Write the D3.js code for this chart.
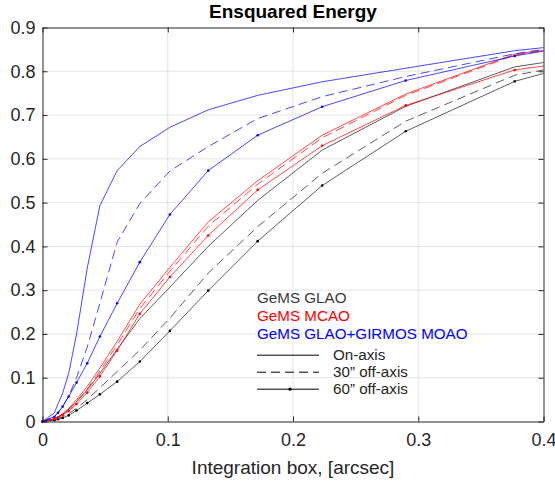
<!DOCTYPE html>
<html>
<head>
<meta charset="utf-8">
<script src="https://cdn.jsdelivr.net/npm/d3@7"></script>
<style>
  body { margin: 0; background: #fff; }
  text { font-family: "Liberation Sans", Arial, Helvetica, sans-serif; }
</style>
</head>
<body>
<div id="chart"></div>
<script>

// integration box sizes (arcsec) where the curves were sampled
var boxSize = [0, 0.0095, 0.0124, 0.0161, 0.0209, 0.0272, 0.0357, 0.0458, 0.0596, 0.0777, 0.1017, 0.1323, 0.1718, 0.2233, 0.29, 0.377, 0.4];

// GeMS GLAO
var glaoOn = [0, 0.006, 0.010, 0.016, 0.027, 0.045, 0.072, 0.110, 0.165, 0.235, 0.307, 0.400, 0.505, 0.620, 0.720, 0.810, 0.820];
var glao30 = [0, 0.004, 0.007, 0.011, 0.018, 0.030, 0.050, 0.077, 0.114, 0.163, 0.236, 0.339, 0.445, 0.567, 0.686, 0.791, 0.803];
var glao60 = [0, 0.003, 0.005, 0.008, 0.014, 0.025, 0.042, 0.062, 0.091, 0.137, 0.207, 0.299, 0.412, 0.539, 0.663, 0.777, 0.795];
// GeMS MCAO
var mcaoOn = [0, 0.007, 0.011, 0.018, 0.030, 0.050, 0.080, 0.122, 0.183, 0.268, 0.352, 0.456, 0.550, 0.654, 0.748, 0.839, 0.848];
var mcao30 = [0, 0.006, 0.010, 0.016, 0.027, 0.046, 0.074, 0.115, 0.175, 0.258, 0.343, 0.446, 0.542, 0.648, 0.745, 0.837, 0.847];
var mcao60 = [0, 0.006, 0.009, 0.015, 0.024, 0.040, 0.066, 0.103, 0.162, 0.246, 0.330, 0.425, 0.529, 0.630, 0.722, 0.803, 0.812];
// GeMS GLAO + GIRMOS MOAO
var moaoOn = [0, 0.020, 0.040, 0.065, 0.110, 0.200, 0.350, 0.493, 0.573, 0.628, 0.672, 0.712, 0.745, 0.776, 0.807, 0.847, 0.854];
var moao30 = [0, 0.012, 0.020, 0.035, 0.058, 0.100, 0.170, 0.270, 0.410, 0.498, 0.572, 0.628, 0.692, 0.742, 0.788, 0.840, 0.850];
var moao60 = [0, 0.011, 0.020, 0.034, 0.057, 0.089, 0.133, 0.194, 0.270, 0.364, 0.473, 0.573, 0.654, 0.719, 0.779, 0.835, 0.846];

var xTicks = [0, 0.1, 0.2, 0.3, 0.4];
var yTicks = [0, 0.1, 0.2, 0.3, 0.4, 0.5, 0.6, 0.7, 0.8, 0.9];

var systemNames = ["GeMS GLAO", "GeMS MCAO", "GeMS GLAO+GIRMOS MOAO"];
var systemColors = ["#000000", "#ff0000", "#0000ff"];
var systemTextColors = ["#3a3a3a", "#ff0000", "#0000ff"];
var fieldNames = ["On-axis", "30\u201D off-axis", "60\u201D off-axis"];

var series = [
  {sys: 0, field: 0, values: glaoOn},
  {sys: 0, field: 1, values: glao30},
  {sys: 0, field: 2, values: glao60},
  {sys: 1, field: 0, values: mcaoOn},
  {sys: 1, field: 1, values: mcao30},
  {sys: 1, field: 2, values: mcao60},
  {sys: 2, field: 0, values: moaoOn},
  {sys: 2, field: 1, values: moao30},
  {sys: 2, field: 2, values: moao60}
];

// set the dimensions and margins of the graph
var margin = {top: 27.5, right: 11.5, bottom: 63.5, left: 42.5},
    W = 555, H = 485,
    width = W - margin.left - margin.right,
    height = H - margin.top - margin.bottom;

var svg = d3.select("#chart")
  .append("svg")
    .attr("width", W)
    .attr("height", H)
  .append("g")
    .attr("transform", "translate(" + margin.left + "," + margin.top + ")");

var x = d3.scaleLinear().domain([0, 0.4]).range([0, width]);
var y = d3.scaleLinear().domain([0, 0.9]).range([height, 0]);

// grid
svg.append("g").selectAll("line")
  .data(xTicks.slice(1, -1))
  .join("line")
    .attr("x1", d => x(d)).attr("x2", d => x(d))
    .attr("y1", 0).attr("y2", height)
    .attr("stroke", "#e3e3e3").attr("stroke-width", 1);
svg.append("g").selectAll("line")
  .data(yTicks.slice(1, -1))
  .join("line")
    .attr("x1", 0).attr("x2", width)
    .attr("y1", d => y(d)).attr("y2", d => y(d))
    .attr("stroke", "#e3e3e3").attr("stroke-width", 1);

// curves
var plot = svg.append("g");
var line = d3.line()
  .x((d, i) => x(boxSize[i]))
  .y(d => y(d));

series.forEach(function(s) {
  plot.append("path")
    .datum(s.values)
    .attr("fill", "none")
    .attr("stroke", systemColors[s.sys])
    .attr("stroke-opacity", s.sys == 0 ? 0.8 : 0.9)
    .attr("stroke-width", 0.8)
    .attr("stroke-dasharray", s.field == 1 ? "9,5" : null)
    .attr("d", line);
  if (s.field == 2) {
    plot.append("g")
      .selectAll("circle")
      .data(s.values.map((v, i) => [boxSize[i], v]).filter(d => d[0] < 0.4))
      .join("circle")
        .attr("cx", d => x(d[0]))
        .attr("cy", d => y(d[1]))
        .attr("r", 1.3)
        .attr("fill", systemColors[s.sys]);
  }
});

// axes, ticks pointing inward on all four sides
var fmt = d => d == 0 ? "0" : d3.format(".1f")(d);
function styleAxis(g) {
  g.select(".domain").attr("stroke", "#262626");
  g.selectAll(".tick line").attr("stroke", "#262626");
  g.selectAll(".tick text").attr("fill", "#262626").attr("font-size", 18);
}
svg.append("g")
  .attr("transform", "translate(0," + height + ")")
  .call(d3.axisBottom(x).tickValues(xTicks).tickFormat(fmt).tickSizeInner(-5).tickSizeOuter(0).tickPadding(12))
  .call(styleAxis);
svg.append("g")
  .call(d3.axisLeft(y).tickValues(yTicks).tickFormat(fmt).tickSizeInner(-5).tickSizeOuter(0).tickPadding(7))
  .call(styleAxis);
svg.append("g")
  .call(d3.axisTop(x).tickValues(xTicks).tickFormat("").tickSizeInner(-5).tickSizeOuter(0))
  .call(styleAxis);
svg.append("g")
  .attr("transform", "translate(" + width + ",0)")
  .call(d3.axisRight(y).tickValues(yTicks).tickFormat("").tickSizeInner(-5).tickSizeOuter(0))
  .call(styleAxis);

// title and x label
svg.append("text")
  .attr("x", width / 2).attr("y", -10)
  .attr("text-anchor", "middle")
  .attr("font-size", 19).attr("font-weight", "bold")
  .attr("fill", "#000")
  .text("Ensquared Energy");
svg.append("text")
  .attr("x", width / 2).attr("y", height + 52)
  .attr("text-anchor", "middle")
  .attr("font-size", 19)
  .attr("fill", "#262626")
  .text("Integration box, [arcsec]");

// legend
var legend = svg.append("g").attr("transform", "translate(" + (257 - margin.left) + "," + (302.7 - margin.top) + ")");
legend.selectAll("text.sys")
  .data(systemNames)
  .join("text")
    .attr("class", "sys")
    .attr("x", 0).attr("y", (d, i) => i * 18.3)
    .attr("font-size", 15.2)
    .attr("fill", (d, i) => systemTextColors[i])
    .text(d => d);

var entries = legend.selectAll("g.field")
  .data(fieldNames)
  .join("g")
    .attr("class", "field")
    .attr("transform", (d, i) => "translate(0," + (52.5 + i * 17) + ")");
entries.append("line")
  .attr("x1", 0).attr("x2", 62).attr("y1", 0).attr("y2", 0)
  .attr("stroke", "#000").attr("stroke-width", 1)
  .attr("stroke-dasharray", (d, i) => i == 1 ? "9,5" : null);
entries.filter((d, i) => i == 2).append("circle")
  .attr("cx", 33).attr("cy", 0).attr("r", 1.6).attr("fill", "#000");
entries.append("text")
  .attr("x", 76).attr("y", 5)
  .attr("font-size", 15.2)
  .attr("fill", "#262626")
  .text(d => d);

</script>
</body>
</html>
